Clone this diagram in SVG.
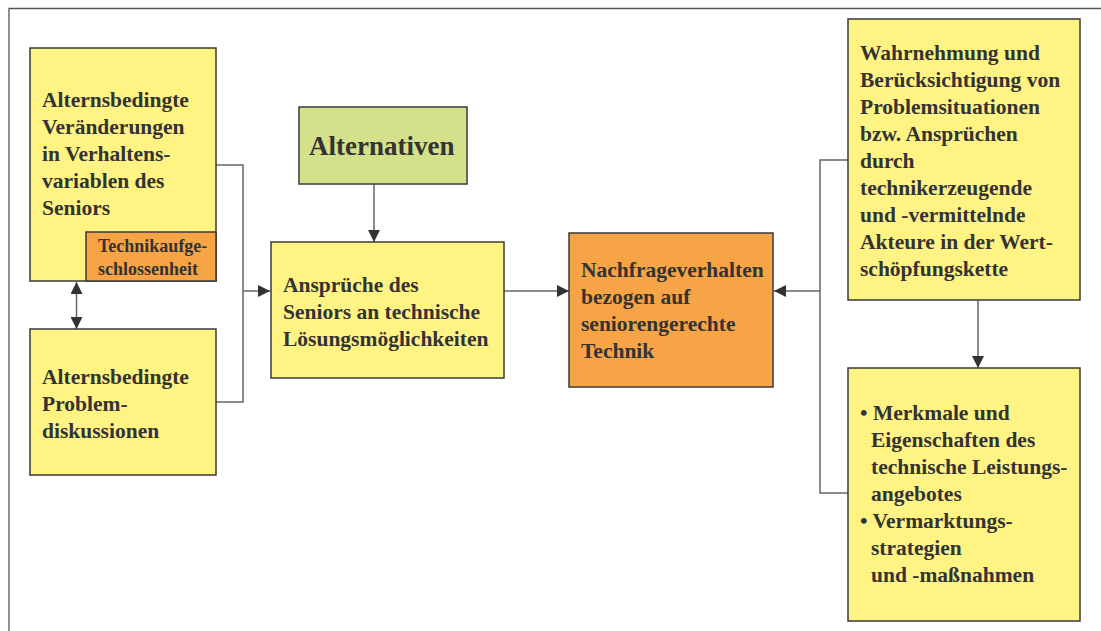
<svg xmlns="http://www.w3.org/2000/svg" width="1101" height="631" viewBox="0 0 1101 631">
  <style>
    .box { stroke: #3a3a3a; stroke-width: 1.5; }
    .yellow { fill: #FFF384; }
    .orange { fill: #F7A446; }
    .green { fill: #D4E18A; }
    .t { font-family: "Liberation Serif", "Times New Roman", serif; font-weight: bold; fill: #333333; font-size: 21.5px; }
    .small { font-size: 18px; }
    .big { font-size: 27px; }
    .wire { fill: none; stroke: #666666; stroke-width: 1.5; }
  </style>
  <defs>
    <marker id="arrow" viewBox="0 0 12 12" refX="12" refY="6" markerWidth="12" markerHeight="12" markerUnits="userSpaceOnUse" orient="auto-start-reverse">
      <path d="M0,0 L12,6 L0,12 Z" fill="#333333"/>
    </marker>
  </defs>

  <rect width="1101" height="631" fill="#ffffff"/>
  <!-- outer frame -->
  <path d="M9,631 V8.5 H1101" fill="none" stroke="#555555" stroke-width="1.3"/>

  <g id="connectors">
    <line class="wire" x1="76.5" y1="282" x2="76.5" y2="329" marker-start="url(#arrow)" marker-end="url(#arrow)"/>
    <path class="wire" d="M216,165 H243 V402 H216"/>
    <line class="wire" x1="243" y1="291" x2="270" y2="291" marker-end="url(#arrow)"/>
    <line class="wire" x1="374" y1="184" x2="374" y2="242" marker-end="url(#arrow)"/>
    <line class="wire" x1="504" y1="291" x2="569" y2="291" marker-end="url(#arrow)"/>
    <path class="wire" d="M848,160 H820 V493 H848"/>
    <line class="wire" x1="820" y1="291" x2="774" y2="291" marker-end="url(#arrow)"/>
    <line class="wire" x1="978" y1="300" x2="978" y2="368" marker-end="url(#arrow)"/>
  </g>

  <g id="node-veraenderungen">
    <rect class="box yellow" x="30" y="48" width="186" height="233"/>
    <text class="t" x="42" y="107">Alternsbedingte</text>
    <text class="t" x="42" y="134">Veränderungen</text>
    <text class="t" x="42" y="161">in Verhaltens-</text>
    <text class="t" x="42" y="188">variablen des</text>
    <text class="t" x="42" y="215">Seniors</text>
  </g>

  <g id="node-technikaufgeschlossenheit">
    <rect class="box orange" x="86" y="232" width="130" height="49"/>
    <text class="t small" x="98" y="252">Technikaufge-</text>
    <text class="t small" x="98" y="275">schlossenheit</text>
  </g>

  <g id="node-problemdiskussionen">
    <rect class="box yellow" x="30" y="329" width="186" height="146"/>
    <text class="t" x="42" y="384">Alternsbedingte</text>
    <text class="t" x="42" y="411">Problem-</text>
    <text class="t" x="42" y="438">diskussionen</text>
  </g>

  <g id="node-alternativen">
    <rect class="box green" x="299" y="107" width="168" height="77"/>
    <text class="t big" x="309" y="155">Alternativen</text>
  </g>

  <g id="node-ansprueche">
    <rect class="box yellow" x="271" y="242" width="233" height="136"/>
    <text class="t" x="283" y="292">Ansprüche des</text>
    <text class="t" x="283" y="319">Seniors an technische</text>
    <text class="t" x="283" y="346">Lösungsmöglichkeiten</text>
  </g>

  <g id="node-nachfrageverhalten">
    <rect class="box orange" x="569" y="233" width="204" height="154"/>
    <text class="t" x="581" y="277">Nachfrageverhalten</text>
    <text class="t" x="581" y="304">bezogen auf</text>
    <text class="t" x="581" y="331">seniorengerechte</text>
    <text class="t" x="581" y="358">Technik</text>
  </g>

  <g id="node-wahrnehmung">
    <rect class="box yellow" x="848" y="19" width="232" height="281"/>
    <text class="t" x="860" y="60">Wahrnehmung und</text>
    <text class="t" x="860" y="87">Berücksichtigung von</text>
    <text class="t" x="860" y="114">Problemsituationen</text>
    <text class="t" x="860" y="141">bzw. Ansprüchen</text>
    <text class="t" x="860" y="168">durch</text>
    <text class="t" x="860" y="195">technikerzeugende</text>
    <text class="t" x="860" y="222">und -vermittelnde</text>
    <text class="t" x="860" y="249">Akteure in der Wert-</text>
    <text class="t" x="860" y="276">schöpfungskette</text>
  </g>

  <g id="node-merkmale">
    <rect class="box yellow" x="848" y="368" width="232" height="253"/>
    <text class="t" x="860" y="420">• Merkmale und</text>
    <text class="t" x="871" y="447">Eigenschaften des</text>
    <text class="t" x="871" y="474">technische Leistungs-</text>
    <text class="t" x="871" y="501">angebotes</text>
    <text class="t" x="860" y="528">• Vermarktungs-</text>
    <text class="t" x="871" y="555">strategien</text>
    <text class="t" x="871" y="582">und -maßnahmen</text>
  </g>
</svg>
